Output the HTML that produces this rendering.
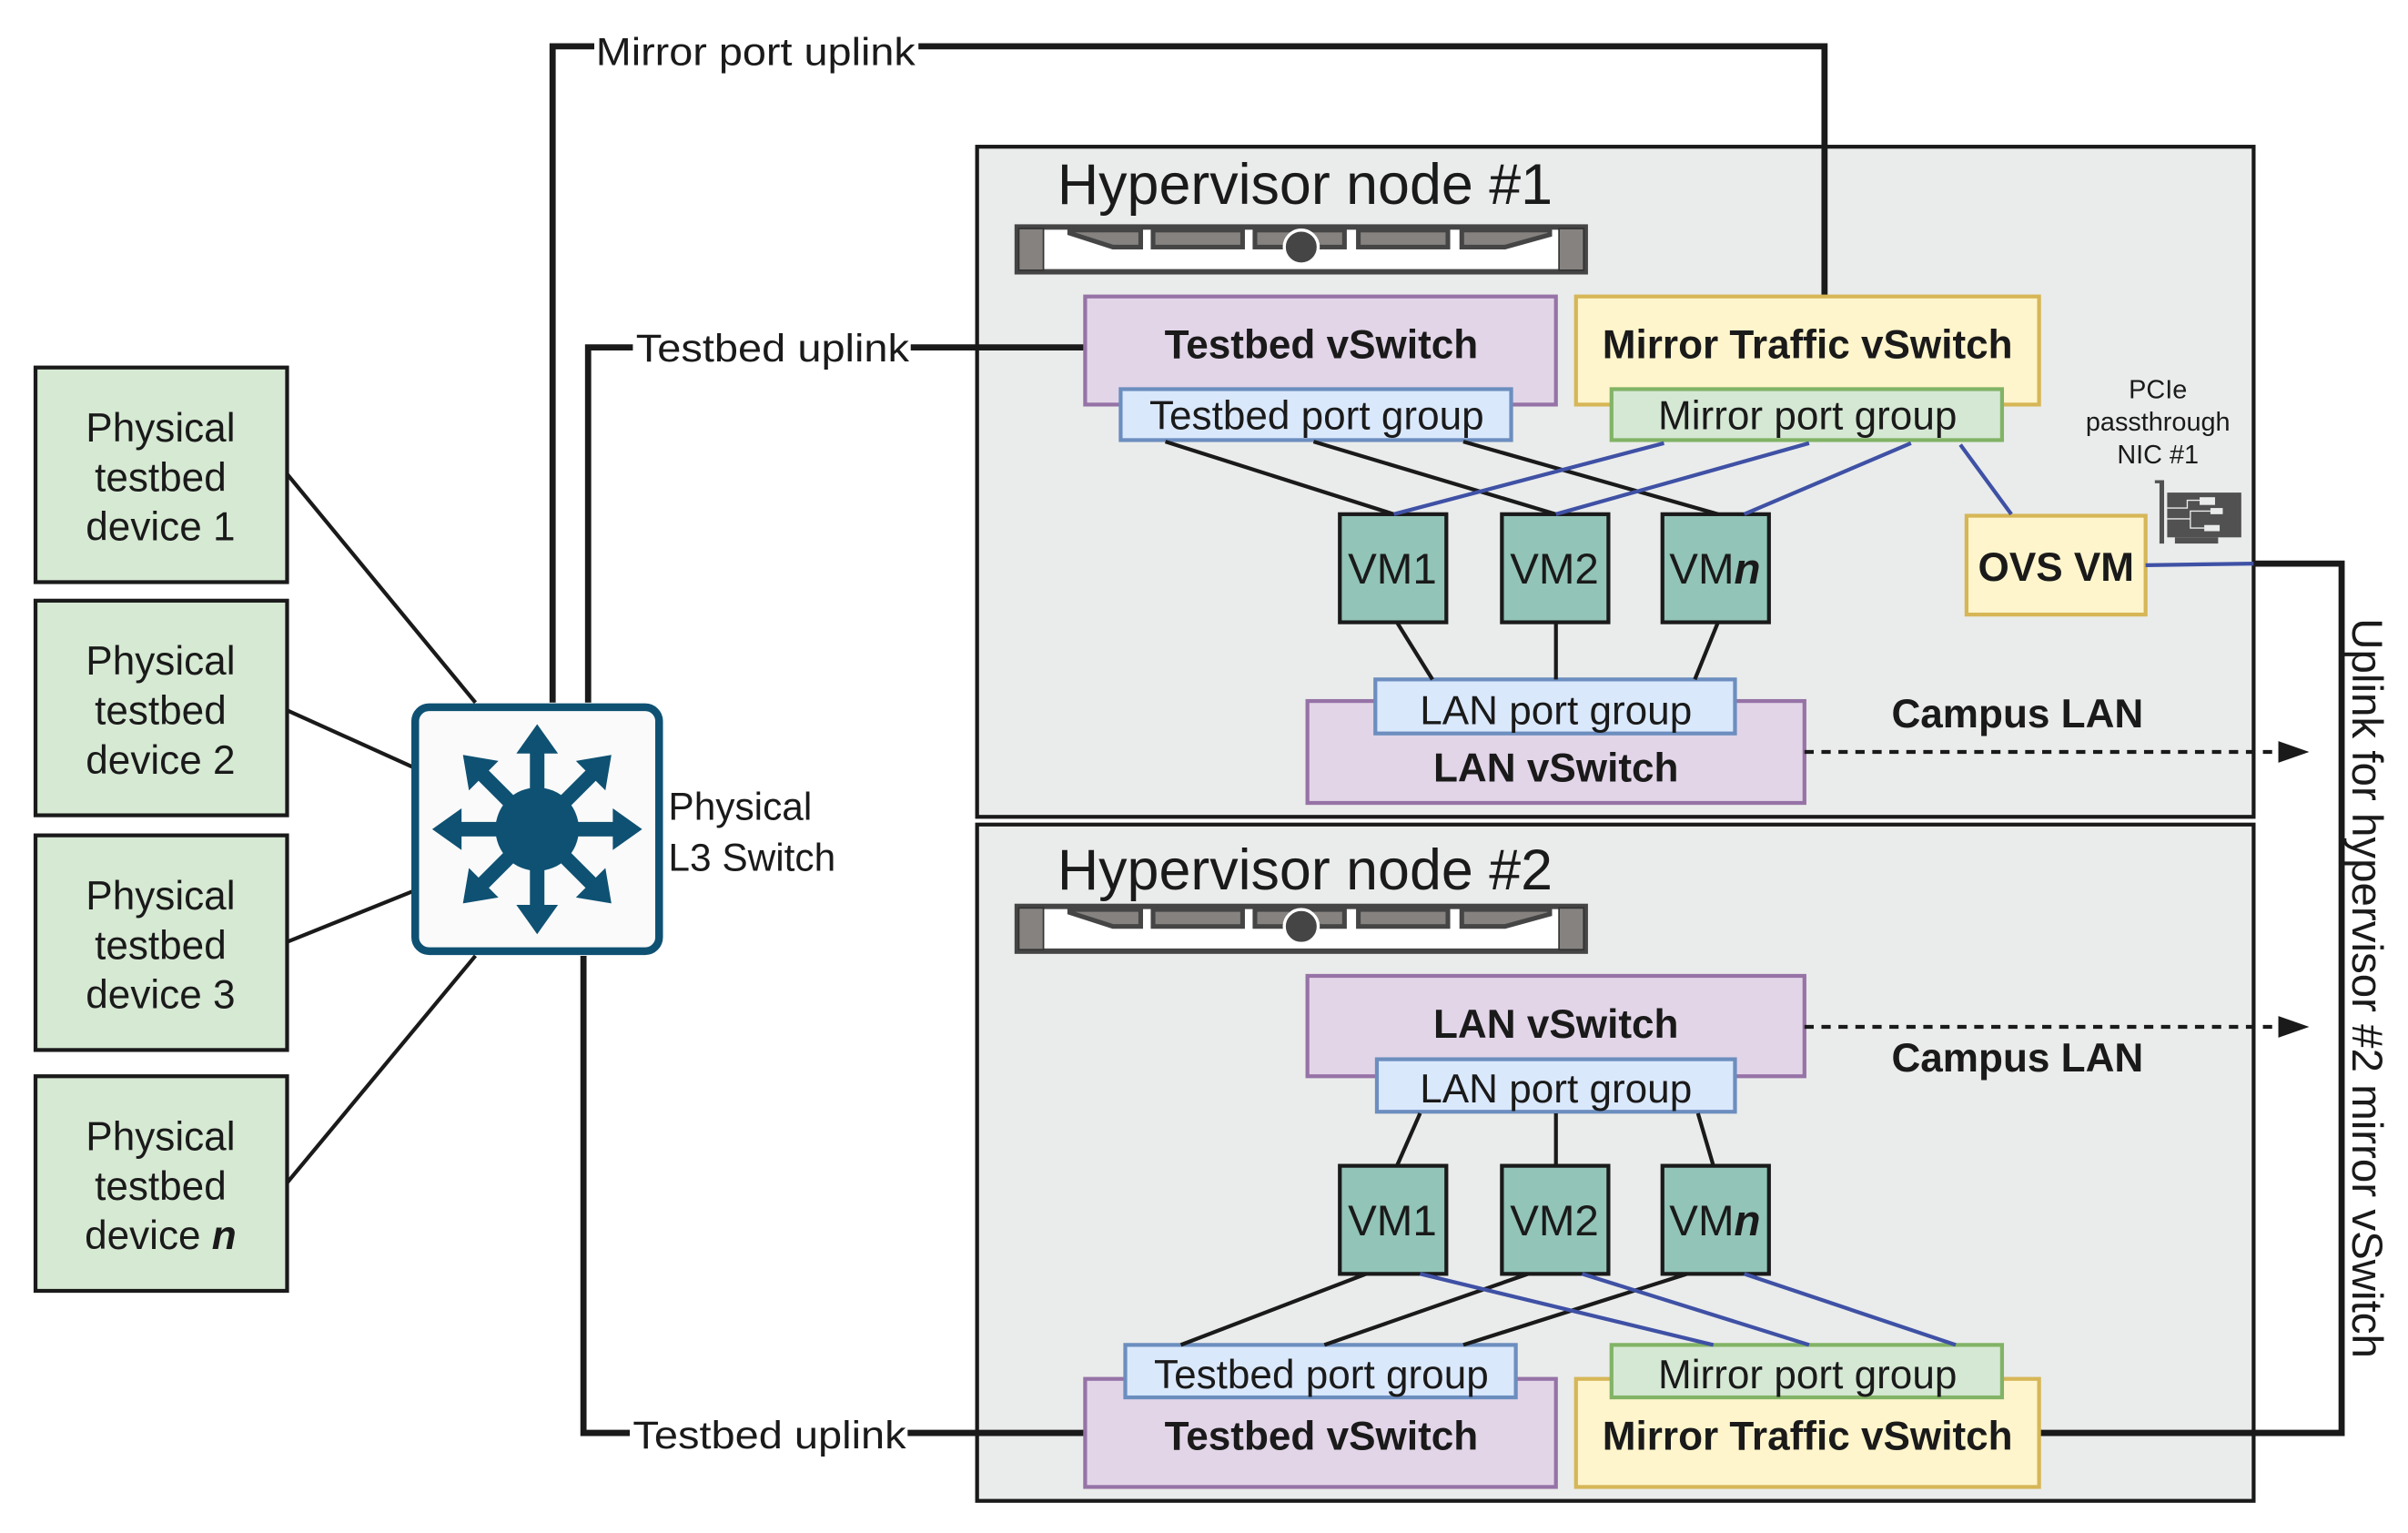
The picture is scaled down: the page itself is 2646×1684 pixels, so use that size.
<!DOCTYPE html>
<html><head><meta charset="utf-8"><style>html,body{margin:0;padding:0;background:#fff}svg{display:block}text{font-family:"Liberation Sans",sans-serif;fill:#1a1a1a}</style></head><body>
<svg width="2646" height="1684" viewBox="0 0 1560 992.8" xmlns="http://www.w3.org/2000/svg">
<g stroke="#1a1a1a" stroke-width="2.5" fill="#d6e9d3">
<rect x="23" y="238" width="163" height="139"/><rect x="23" y="389" width="163" height="139"/><rect x="23" y="541" width="163" height="139"/><rect x="23" y="697" width="163" height="139"/>
</g>
<g font-size="26" text-anchor="middle">
<text x="104" y="286">Physical</text><text x="104" y="318">testbed</text><text x="104" y="350">device 1</text>
<text x="104" y="437">Physical</text><text x="104" y="469">testbed</text><text x="104" y="501">device 2</text>
<text x="104" y="589">Physical</text><text x="104" y="621">testbed</text><text x="104" y="653">device 3</text>
<text x="104" y="745">Physical</text><text x="104" y="777">testbed</text><text x="104" y="809">device <tspan font-weight="bold" font-style="italic">n</tspan></text>
</g>
<g stroke="#1a1a1a" stroke-width="2.5" fill="none">
<line x1="186" y1="307" x2="308" y2="455"/><line x1="186" y1="460" x2="268" y2="497"/><line x1="186" y1="610" x2="268" y2="577"/><line x1="186" y1="766" x2="308" y2="619"/>
</g>
<!-- hypervisors -->
<rect x="633" y="95" width="827" height="434" fill="#eaeceb" stroke="#1a1a1a" stroke-width="2.5"/>
<rect x="633" y="534" width="827" height="438" fill="#eaeceb" stroke="#1a1a1a" stroke-width="2.5"/>
<g stroke="#1a1a1a" stroke-width="4" fill="none">
<polyline points="358,455 358,30 385,30"/><polyline points="595,30 1182,30 1182,195"/>
<polyline points="381,455 381,225 410,225"/><line x1="590" y1="225" x2="703" y2="225"/>
<polyline points="378,619 378,928 408,928"/><line x1="588" y1="928" x2="703" y2="928"/>
<polyline points="1460,365 1517,365 1517,928 1321,928"/>
</g>
<g font-size="25"><text x="386" y="42" textLength="207" lengthAdjust="spacingAndGlyphs">Mirror port uplink</text><text x="412" y="234" textLength="177" lengthAdjust="spacingAndGlyphs">Testbed uplink</text><text x="410" y="938" textLength="177" lengthAdjust="spacingAndGlyphs">Testbed uplink</text>
<text x="433" y="531">Physical</text><text x="433" y="564">L3 Switch</text></g>
<!-- switch -->
<rect x="269" y="458" width="158" height="158" rx="9" fill="#fafafa" stroke="#0e5173" stroke-width="5"/>
<g fill="#0e5173" transform="translate(348,537)">
<g><rect x="-4.7" y="-52" width="9.4" height="40"/><polygon points="-13.5,-49 13.5,-49 0,-68"/></g>
<g transform="rotate(45)"><rect x="-4.7" y="-52" width="9.4" height="40"/><polygon points="-13.5,-49 13.5,-49 0,-68"/></g>
<g transform="rotate(90)"><rect x="-4.7" y="-52" width="9.4" height="40"/><polygon points="-13.5,-49 13.5,-49 0,-68"/></g>
<g transform="rotate(135)"><rect x="-4.7" y="-52" width="9.4" height="40"/><polygon points="-13.5,-49 13.5,-49 0,-68"/></g>
<g transform="rotate(180)"><rect x="-4.7" y="-52" width="9.4" height="40"/><polygon points="-13.5,-49 13.5,-49 0,-68"/></g>
<g transform="rotate(225)"><rect x="-4.7" y="-52" width="9.4" height="40"/><polygon points="-13.5,-49 13.5,-49 0,-68"/></g>
<g transform="rotate(270)"><rect x="-4.7" y="-52" width="9.4" height="40"/><polygon points="-13.5,-49 13.5,-49 0,-68"/></g>
<g transform="rotate(315)"><rect x="-4.7" y="-52" width="9.4" height="40"/><polygon points="-13.5,-49 13.5,-49 0,-68"/></g>
<circle r="27"/>
</g>
<text x="685" y="132" font-size="37">Hypervisor node #1</text>
<text x="685" y="576" font-size="37">Hypervisor node #2</text>
<g id="srv">
<rect x="659" y="147" width="368" height="29" fill="#fff" stroke="#454545" stroke-width="3.5"/>
<rect x="660" y="148" width="16" height="27" fill="#858280" stroke="#333" stroke-width="1"/>
<rect x="1010" y="148" width="16" height="27" fill="#858280" stroke="#333" stroke-width="1"/>
<g fill="#858280" stroke="#454545" stroke-width="3">
<polygon points="693,149 739,149 739,160 721,160 693,151"/>
<rect x="747" y="149" width="58" height="11"/><rect x="813" y="149" width="58" height="11"/><rect x="880" y="149" width="58" height="11"/>
<polygon points="947,149 1004,149 1004,152 975,160 947,160"/>
</g>
<ellipse cx="843" cy="160" rx="11" ry="11" fill="#454545" stroke="#fff" stroke-width="2"/>
</g>
<use href="#srv" transform="translate(0,440)"/>
<g stroke-width="2.5">
<rect x="703" y="192" width="305" height="70" fill="#e2d5e8" stroke="#9673a6"/>
<rect x="1021" y="192" width="300" height="70" fill="#fff5cc" stroke="#d6b656"/>
<rect x="726" y="252" width="253" height="33" fill="#dae8fc" stroke="#6c8ebf"/>
<rect x="1044" y="252" width="253" height="33" fill="#d5e8d4" stroke="#82b366"/>
<rect x="847" y="454" width="322" height="66" fill="#e2d5e8" stroke="#9673a6"/>
<rect x="891" y="440" width="233" height="35" fill="#dae8fc" stroke="#6c8ebf"/>
<rect x="1274" y="334" width="116" height="64" fill="#fff5cc" stroke="#d6b656"/>
<rect x="703" y="893" width="305" height="70" fill="#e2d5e8" stroke="#9673a6"/>
<rect x="1021" y="893" width="300" height="70" fill="#fff5cc" stroke="#d6b656"/>
<rect x="729" y="871" width="253" height="34" fill="#dae8fc" stroke="#6c8ebf"/>
<rect x="1044" y="871" width="253" height="34" fill="#d5e8d4" stroke="#82b366"/>
<rect x="847" y="632" width="322" height="65" fill="#e2d5e8" stroke="#9673a6"/>
<rect x="892" y="686" width="232" height="34" fill="#dae8fc" stroke="#6c8ebf"/>
</g>
<g fill="#92c4b7" stroke="#1a1a1a" stroke-width="2.5">
<rect x="868" y="333" width="69" height="70"/><rect x="973" y="333" width="69" height="70"/><rect x="1077" y="333" width="69" height="70"/>
<rect x="868" y="755" width="69" height="70"/><rect x="973" y="755" width="69" height="70"/><rect x="1077" y="755" width="69" height="70"/>
</g>
<g stroke="#1a1a1a" stroke-width="2.5">
<line x1="755" y1="286" x2="903" y2="333"/><line x1="851" y1="286" x2="1008" y2="333"/><line x1="948" y1="286" x2="1113" y2="333"/>
<line x1="905" y1="403" x2="928" y2="440"/><line x1="1008" y1="403" x2="1008" y2="440"/><line x1="1113" y1="403" x2="1098" y2="440"/>
<line x1="920" y1="721" x2="905" y2="755"/><line x1="1008" y1="721" x2="1008" y2="755"/><line x1="1100" y1="721" x2="1110" y2="755"/>
<line x1="885" y1="825" x2="765" y2="871"/><line x1="990" y1="825" x2="858" y2="871"/><line x1="1093" y1="825" x2="948" y2="871"/>
</g>
<g stroke="#3f51a5" stroke-width="2.5">
<line x1="1078" y1="287" x2="903" y2="333"/><line x1="1172" y1="287" x2="1008" y2="333"/><line x1="1238" y1="287" x2="1130" y2="333"/><line x1="1270" y1="288" x2="1303" y2="333"/>
<line x1="1390" y1="366" x2="1460" y2="365"/>
<line x1="920" y1="825" x2="1110" y2="871"/><line x1="1025" y1="825" x2="1172" y2="871"/><line x1="1130" y1="825" x2="1267" y2="871"/>
</g>
<g stroke="#1a1a1a" stroke-width="2.5" stroke-dasharray="6,5">
<line x1="1169" y1="487" x2="1480" y2="487"/><line x1="1169" y1="665" x2="1480" y2="665"/>
</g>
<polygon points="1476,480 1496,487 1476,494" fill="#1a1a1a"/><polygon points="1476,658 1496,665 1476,672" fill="#1a1a1a"/>
<!-- NIC -->
<g fill="#505150">
<polygon points="1396,311 1402,311 1402,352 1399,352 1399,313 1396,313"/>
<rect x="1404" y="319" width="48" height="29"/>
<rect x="1409" y="348" width="28" height="4"/>
</g>
<g stroke="#eaeceb" stroke-width="0.8" fill="none"><polyline points="1404,329 1417,329 1417,324 1425,324"/><polyline points="1404,336 1419,336 1419,331 1432,331"/><polyline points="1419,336 1419,342 1428,342"/></g>
<g fill="#eaeceb"><rect x="1425" y="322" width="10" height="5"/><rect x="1432" y="329" width="8" height="4"/><rect x="1428" y="340" width="10" height="4"/></g>
<g font-size="17" text-anchor="middle"><text x="1398" y="258">PCIe</text><text x="1398" y="279">passthrough</text><text x="1398" y="300">NIC #1</text></g>
<g font-size="26" text-anchor="middle">
<text x="856" y="232" font-weight="bold">Testbed vSwitch</text>
<text x="1171" y="232" font-weight="bold">Mirror Traffic vSwitch</text>
<text x="853" y="278">Testbed port group</text>
<text x="1171" y="278">Mirror port group</text>
<text x="1008" y="469">LAN port group</text>
<text x="1008" y="506" font-weight="bold">LAN vSwitch</text>
<text x="1332" y="376" font-weight="bold">OVS VM</text>
<text x="1307" y="471" font-weight="bold">Campus LAN</text>
<text x="1307" y="694" font-weight="bold">Campus LAN</text>
<text x="1008" y="672" font-weight="bold">LAN vSwitch</text>
<text x="1008" y="714">LAN port group</text>
<text x="856" y="899">Testbed port group</text>
<text x="1171" y="899">Mirror port group</text>
<text x="856" y="939" font-weight="bold">Testbed vSwitch</text>
<text x="1171" y="939" font-weight="bold">Mirror Traffic vSwitch</text>
<g font-size="28">
<text x="902" y="378">VM1</text><text x="1007" y="378">VM2</text><text x="1111" y="378">VM<tspan font-weight="bold" font-style="italic">n</tspan></text>
<text x="902" y="800">VM1</text><text x="1007" y="800">VM2</text><text x="1111" y="800">VM<tspan font-weight="bold" font-style="italic">n</tspan></text>
</g>
</g>
<text x="0" y="0" font-size="28" text-anchor="middle" transform="translate(1524,640) rotate(90)">Uplink for hypervisor #2 mirror vSwitch</text>
</svg>
</body></html>
